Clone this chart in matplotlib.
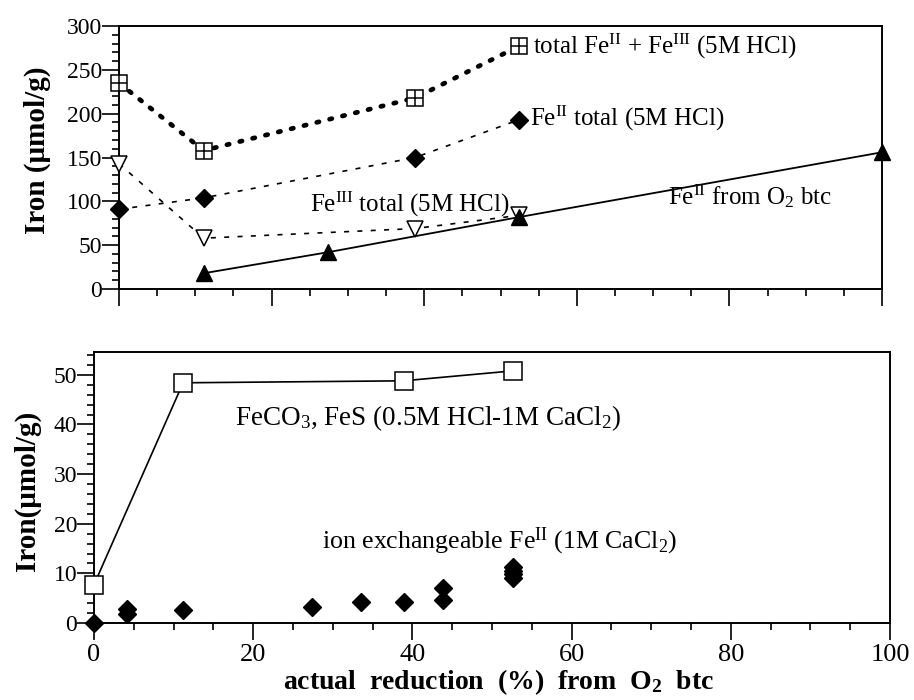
import numpy as np
import matplotlib.pyplot as plt
from matplotlib.ticker import MultipleLocator

plt.rcParams['font.family'] = ['Liberation Serif', 'DejaVu Serif']
plt.rcParams['mathtext.fontset'] = 'custom'
plt.rcParams['mathtext.rm'] = 'Liberation Serif'
plt.rcParams['mathtext.it'] = 'Liberation Serif:italic'
plt.rcParams['mathtext.bf'] = 'Liberation Serif:bold'

# upper panel: 5M HCl extraction and O2 breakthrough
x_total = [0, 11.1, 38.8, 52.4]
fe_total = [235, 158, 218, 277]
fe2_total = [91, 104, 150, 193]
fe3_total = [143, 58, 69, 84]

x_btc = [11.1, 27.4, 52.4, 100]
fe2_btc = [18, 42, 82, 156]

# lower panel: selective extractions
x_carb = [0, 11.2, 38.9, 52.6]
fe_carb = [7.7, 48.4, 48.8, 50.8]

x_ionex = [0, 4.1, 4.1, 11.2, 27.4, 33.6, 38.9, 43.9, 43.9, 52.6, 52.6, 52.6, 52.6]
fe_ionex = [0, 1.8, 2.8, 2.6, 3.3, 4.3, 4.2, 4.6, 7.0, 9.0, 9.8, 10.5, 11.2]

fig = plt.figure(figsize=(9.14, 7.0), dpi=100)
ax1 = fig.add_axes([0.1302, 0.5871, 0.8348, 0.3757])
ax2 = fig.add_axes([0.1028, 0.11, 0.8709, 0.3871])

k = 'black'
# total Fe: thick dotted line, square with cross
ax1.plot(x_total, fe_total, color=k, lw=3.4, linestyle=(0, (0.5, 2.3)),
         dash_capstyle='round', zorder=2)
ax1.plot(x_total, fe_total, 's', ms=12, mfc='white', mec=k, mew=1.1,
         clip_on=False, zorder=3)
ax1.plot(x_total, fe_total, '+', ms=12, mec=k, mew=1.1, clip_on=False, zorder=4)

ax1.plot(x_total, fe2_total, color=k, lw=1.2, linestyle=(0, (3, 5)), zorder=2)
ax1.plot(x_total, fe2_total, 'D', ms=9, color=k, clip_on=False, zorder=3)

ax1.plot(x_total, fe3_total, color=k, lw=1.2, linestyle=(0, (3, 5)), zorder=2)
ax1.plot(x_total, fe3_total, 'v', ms=12, mfc='white', mec=k, mew=1.1,
         clip_on=False, zorder=3)

ax1.plot(x_btc, fe2_btc, '-^', color=k, lw=1.3, ms=12, clip_on=False, zorder=3)

ax1.text(54.3, 269, r'total Fe$^{\mathrm{II}}$ + Fe$^{\mathrm{III}}$ (5M HCl)',
         fontsize=18, va='baseline')
ax1.text(53.8, 187, r'Fe$^{\mathrm{II}}$ total (5M HCl)', fontsize=18, va='baseline')
ax1.text(25, 88, r'Fe$^{\mathrm{III}}$ total (5M HCl)', fontsize=18, va='baseline')
ax1.text(72, 96, r'Fe$^{\mathrm{II}}$ from O$_2$ btc', fontsize=18, va='baseline')

ax1.set_xlim(0, 100)
ax1.set_ylim(0, 300)
ax1.xaxis.set_major_locator(MultipleLocator(20))
ax1.xaxis.set_minor_locator(MultipleLocator(5))
ax1.yaxis.set_major_locator(MultipleLocator(50))
ax1.yaxis.set_minor_locator(MultipleLocator(10))
ax1.tick_params(axis='x', labelbottom=False)

# lower panel
ax2.plot(x_carb, fe_carb, '-s', color=k, lw=1.2, ms=13, mfc='white', mec=k,
         mew=1.1, clip_on=False, zorder=3)
ax2.plot(x_ionex, fe_ionex, 'D', ms=9, color=k, linestyle='none',
         clip_on=False, zorder=3)

ax2.text(17.7, 39.9, r'FeCO$_3$, FeS (0.5M HCl-1M CaCl$_2$)', fontsize=19.5,
         va='baseline')
ax2.text(28.6, 15.1, r'ion exchangeable Fe$^{\mathrm{II}}$ (1M CaCl$_2$)',
         fontsize=18.6, va='baseline')

ax2.set_xlim(0, 100)
ax2.set_ylim(0, 54.6)
ax2.xaxis.set_major_locator(MultipleLocator(20))
ax2.xaxis.set_minor_locator(MultipleLocator(5))
ax2.yaxis.set_major_locator(MultipleLocator(10))
ax2.yaxis.set_minor_locator(MultipleLocator(2))

for ax in (ax1, ax2):
    for s in ax.spines.values():
        s.set_linewidth(1.4)
    ax.tick_params(which='both', direction='out', top=False, right=False,
                   width=1.2, colors=k)
    ax.tick_params(which='major', length=12)
    ax.tick_params(which='minor', length=5)
    ax.tick_params(axis='y', labelsize=17, pad=0)
    ax.tick_params(axis='x', labelsize=19, pad=3)

fig.text(0.041, 1 - 150 / 700, 'Iron (μmol/g)', rotation=90, fontsize=21,
         fontweight='bold', ha='center', va='center')
fig.text(0.030, 1 - 491 / 700, 'Iron(μmol/g)', rotation=90, fontsize=21,
         fontweight='bold', ha='center', va='center')
fig.text(499 / 914, 1 - 682 / 700,
         r'actual  reduction  (%)  from  O$_\mathbf{2}$  btc',
         fontsize=20, fontweight='bold', ha='center', va='center')

fig.savefig('out.png', dpi=100)
